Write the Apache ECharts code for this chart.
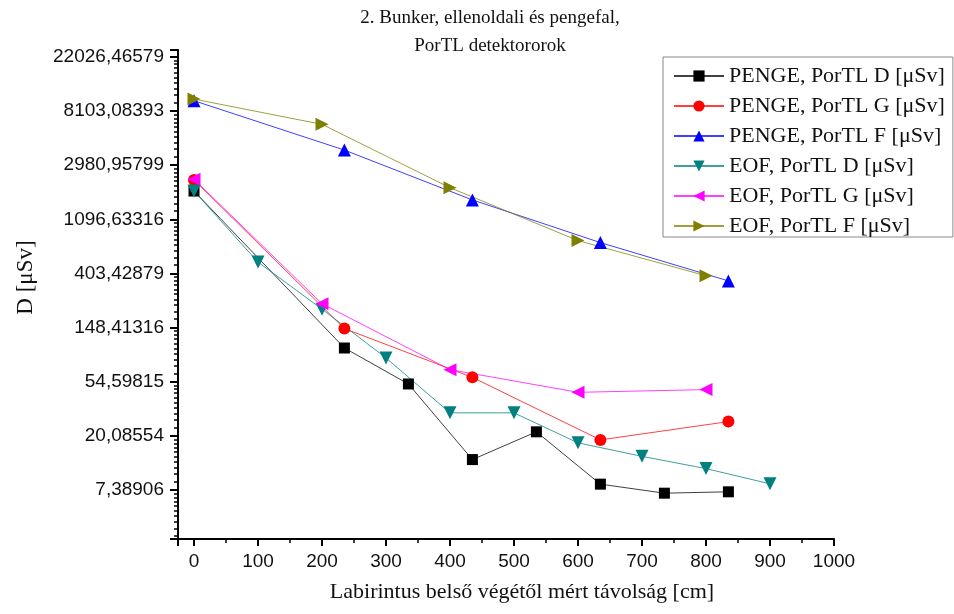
<!DOCTYPE html>
<html>
<head>
<meta charset="utf-8">
<script src="https://cdn.jsdelivr.net/npm/echarts@6/dist/echarts.min.js"></script>
<style>html,body{margin:0;padding:0;background:#fff;}#chart{width:954px;height:614px;}</style>
</head>
<body>
<div id="chart"></div>
<script>
// Data
var pengeDX = [0, 235, 335, 435, 535, 635, 735, 835];
var pengeD  = [1850, 102, 52.5, 13.0, 21.7, 8.26, 6.99, 7.17];
var pengeGX = [0, 235, 435, 635, 835];
var pengeG  = [2270, 146, 59.3, 18.7, 26.2];
var pengeFX = [0, 235, 435, 635, 835];
var pengeF  = [9800, 3940, 1570, 714, 352];
var eofDX = [0, 100, 200, 300, 400, 500, 600, 700, 800, 900];
var eofD  = [1850, 498, 209, 84.9, 30.8, 30.8, 17.7, 13.8, 11.0, 8.31];
var eofGX = [0, 200, 400, 600, 800];
var eofG  = [2300, 231, 68.4, 45.0, 47.3];
var eofFX = [0, 200, 400, 600, 800];
var eofF  = [10100, 6335, 1967, 741, 387];
var seriesNames = ['PENGE, PorTL D [\u03bcSv]', 'PENGE, PorTL G [\u03bcSv]', 'PENGE, PorTL F [\u03bcSv]',
                   'EOF, PorTL D [\u03bcSv]', 'EOF, PorTL G [\u03bcSv]', 'EOF, PorTL F [\u03bcSv]'];
var titleText = '2. Bunker, ellenoldali és pengefal,\nPorTL detektororok';
var xName = 'Labirintus belső végétől mért távolság [cm]';
var yName = 'D [\u03bcSv]';

function pairs(xs, ys) { return xs.map(function (x, i) { return [x, ys[i]]; }); }

var serif = 'Liberation Serif';
var sans = 'Liberation Sans';

function mk(name, xs, ys, color, symbol, rot, size) {
  return {
    name: name, type: 'line', data: pairs(xs, ys),
    symbol: symbol, symbolRotate: rot, symbolSize: size,
    itemStyle: { color: color },
    lineStyle: { color: color, width: 1, opacity: 0.75 },
    emphasis: { disabled: true },
    animation: false
  };
}

var chart = echarts.init(document.getElementById('chart'));
chart.setOption({
  backgroundColor: '#fff',
  animation: false,
  title: {
    text: titleText,
    left: 490, textAlign: 'center', top: 4,
    padding: 0,
    textStyle: { fontFamily: serif, fontSize: 19, fontWeight: 'normal', color: '#111', lineHeight: 28 }
  },
  grid: { left: 178, right: 120, top: 50, bottom: 75 },
  legend: {
    orient: 'vertical', left: 663, top: 57,
    padding: [8, 8, 0, 10],
    borderColor: '#888', borderWidth: 1,
    itemWidth: 50, itemHeight: 14, itemGap: 8,
    textStyle: { fontFamily: serif, fontSize: 22, color: '#111', lineHeight: 22 },
    data: seriesNames
  },
  xAxis: {
    type: 'value', min: -25, max: 1000, splitNumber: 10,
    name: xName, nameLocation: 'middle', nameGap: 42,
    nameTextStyle: { fontFamily: serif, fontSize: 22, color: '#111', padding: [0, 0, 0, 32] },
    axisLine: { onZero: false, lineStyle: { color: '#000', width: 2 } },
    axisTick: { show: true, length: 7, lineStyle: { color: '#000', width: 2 } },
    minorTick: { show: true, splitNumber: 2, length: 4, lineStyle: { color: '#000', width: 1.5 } },
    axisLabel: { fontFamily: sans, fontSize: 19, color: '#111', margin: 13, showMinLabel: false,
      formatter: function (v) { return String(v); } },
    splitLine: { show: false }
  },
  yAxis: {
    type: 'log', logBase: Math.E, min: 3, max: 25000, splitNumber: 9,
    name: yName, nameLocation: 'middle', nameGap: 141,
    nameTextStyle: { fontFamily: serif, fontSize: 23, color: '#111', padding: [0, 0, 0, 34] },
    axisLine: { onZero: false, lineStyle: { color: '#000', width: 2 } },
    axisTick: { show: true, length: 8, lineStyle: { color: '#000', width: 2 } },
    minorTick: { show: true, splitNumber: 10, length: 4, lineStyle: { color: '#000', width: 1.5 } },
    axisLabel: {
      fontFamily: sans, fontSize: 19, color: '#111', margin: 14,
      showMinLabel: false, showMaxLabel: false,
      formatter: function (v) {
        var l = Math.log(v);
        if (Math.abs(l - Math.round(l)) > 1e-6) return '';
        return v.toFixed(5).replace('.', ',');
      }
    },
    splitLine: { show: false }
  },
  series: [
    mk(seriesNames[0], pengeDX, pengeD, '#000000', 'rect', 0, 11),
    mk(seriesNames[1], pengeGX, pengeG, '#ff0000', 'circle', 0, 12),
    mk(seriesNames[2], pengeFX, pengeF, '#0000ff', 'triangle', 0, 13),
    mk(seriesNames[3], eofDX, eofD, '#008080', 'triangle', 180, 13),
    mk(seriesNames[4], eofGX, eofG, '#ff00ff', 'triangle', 90, 13),
    mk(seriesNames[5], eofFX, eofF, '#808000', 'triangle', -90, 13)
  ]
});
</script>
</body>
</html>
